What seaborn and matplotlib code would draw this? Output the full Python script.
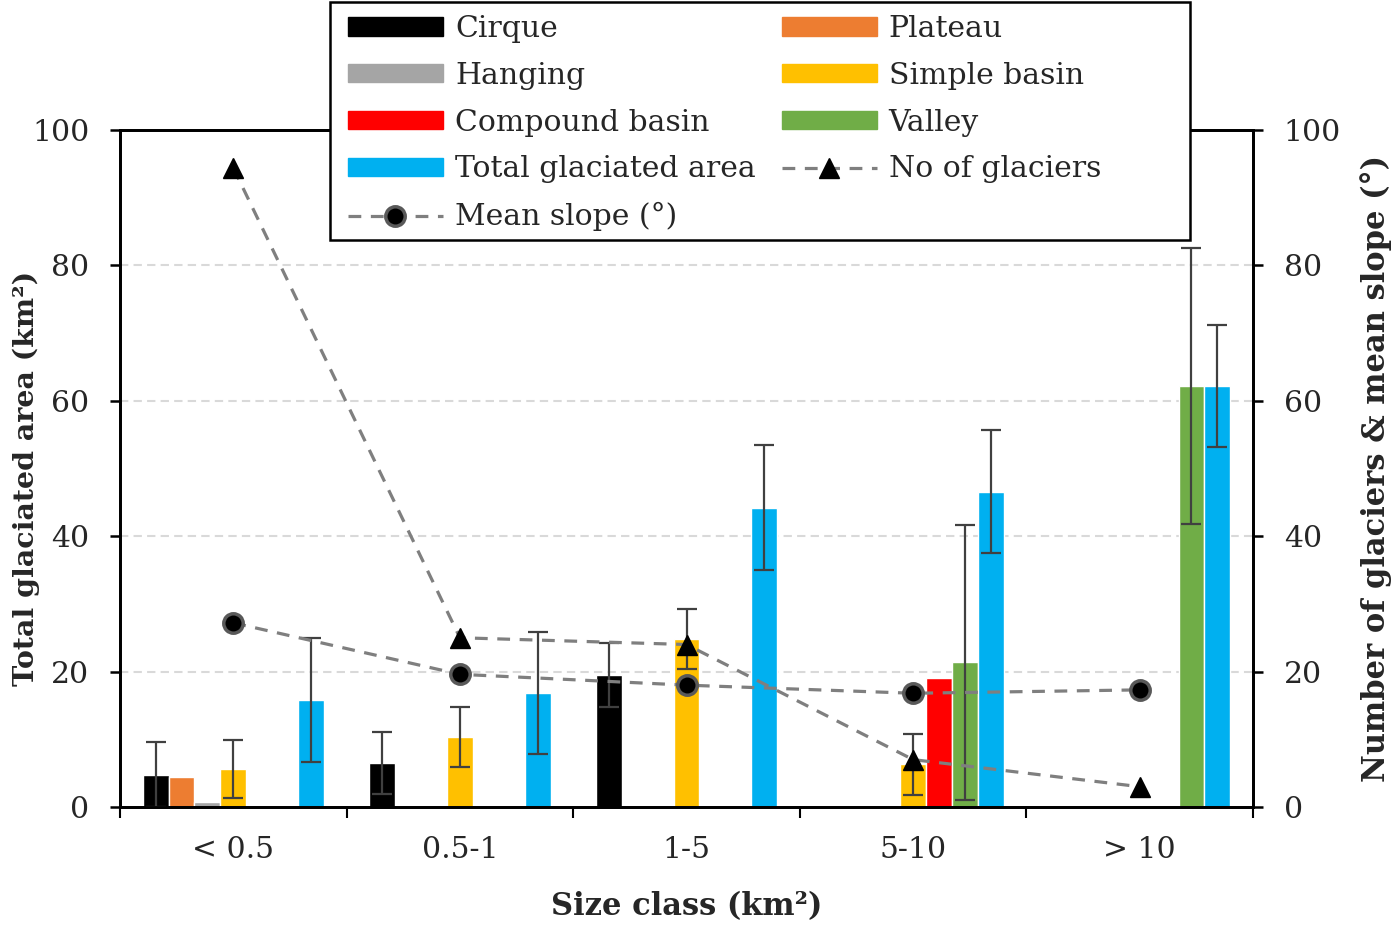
import numpy as np
import pandas as pd
import matplotlib
matplotlib.use('Agg')
import matplotlib.pyplot as plt
import seaborn as sns
from matplotlib.patches import Patch, Rectangle
from matplotlib.lines import Line2D
from matplotlib.container import BarContainer

# ---------------- data ----------------
categories = ['< 0.5', '0.5-1', '1-5', '5-10', '> 10']
types = ['Cirque', 'Plateau', 'Hanging', 'Simple basin', 'Compound basin', 'Valley',
         'Total glaciated area']
colors = ['#000000', '#ED7D31', '#A5A5A5', '#FFC000', '#FF0000', '#70AD47', '#00B0F0']

nan = np.nan
cirque = [4.8, 6.5, 19.5, nan, nan]
cirque_err = [4.8, 4.6, 4.7, nan, nan]
plateau = [4.5, nan, nan, nan, nan]
plateau_err = [nan, nan, nan, nan, nan]
hanging = [0.7, nan, nan, nan, nan]
hanging_err = [nan, nan, nan, nan, nan]
simple_basin = [5.6, 10.3, 24.8, 6.3, nan]
simple_basin_err = [4.3, 4.4, 4.4, 4.5, nan]
compound_basin = [nan, nan, nan, 19.0, nan]
compound_basin_err = [nan, nan, nan, nan, nan]
valley = [nan, nan, nan, 21.4, 62.2]
valley_err = [nan, nan, nan, 20.3, 20.4]
total_area = [15.8, 16.8, 44.2, 46.6, 62.2]
total_area_err = [9.1, 9.0, 9.2, 9.1, 9.0]

no_of_glaciers = [94.4, 25, 24, 7, 3]
mean_slope = [27.2, 19.6, 18.0, 16.8, 17.3]

values = [cirque, plateau, hanging, simple_basin, compound_basin, valley, total_area]
errors = [cirque_err, plateau_err, hanging_err, simple_basin_err, compound_basin_err,
          valley_err, total_area_err]

rows = []
for t, vals, errs in zip(types, values, errors):
    for c, v, e in zip(categories, vals, errs):
        if not np.isnan(v):
            rows.append({'size': c, 'type': t, 'area': v, 'err': e})
df = pd.DataFrame(rows)

# ---------------- style ----------------
sns.set_style('white')
plt.rcParams['font.family'] = ['DejaVu Serif']
plt.rcParams['font.size'] = 21

TICK_FS = 21.5
LABEL_FS = 22
LEG_FS = 21.5

fig = plt.figure(figsize=(14, 9.32), dpi=100)
ax = fig.add_axes([120 / 1400, 1 - 807 / 932, (1253 - 120) / 1400, (807 - 130) / 932])

sns.barplot(data=df, x='size', y='area', hue='type', order=categories, hue_order=types,
            palette=colors, saturation=1, width=0.8, gap=0, errorbar=None,
            legend=False, ax=ax, zorder=2)

# error bars drawn at the seaborn bar positions
nh = len(types)
bar_containers = [c for c in ax.containers if isinstance(c, BarContainer)]
for cont in bar_containers:
    for bar in cont:
        if bar is None:
            continue
        xc = bar.get_x() + bar.get_width() / 2
        ci = int(round(xc))
        hi = int(round((xc - ci) / (0.8 / nh) + (nh - 1) / 2))
        e = errors[hi][ci]
        if not np.isnan(e):
            ax.errorbar(xc, bar.get_height(), yerr=e, fmt='none', ecolor='#404040',
                        elinewidth=1.6, capsize=7, capthick=1.6, zorder=3)

ax.set_xlim(-0.5, len(categories) - 0.5)
ax.set_ylim(0, 100)
ax.set_yticks(np.arange(0, 101, 20))
ax.set_xticks(np.arange(len(categories)))
ax.set_xticklabels(categories)
ax.set_xticks(np.arange(len(categories) + 1) - 0.5, minor=True)
ax.tick_params(axis='x', which='major', length=0, pad=21, labelsize=TICK_FS)
ax.tick_params(axis='x', which='minor', length=8, width=1.5, direction='out',
               color='black', bottom=True)
ax.tick_params(axis='y', length=7.2, width=1.8, direction='out', color='black',
               left=True, labelsize=TICK_FS, pad=15)

ax.set_axisbelow(True)
for yv in [20, 40, 60, 80]:
    ax.axhline(yv, color='#D9D9D9', lw=1.5, ls=(0, (4, 2.5)), zorder=0)

for s in ax.spines.values():
    s.set_visible(True)
    s.set_color('black')
    s.set_linewidth(2)

ax.set_xlabel('Size class (km²)', fontsize=LABEL_FS, fontweight='bold', labelpad=19)
ax.set_ylabel('Total glaciated area (km²)', fontsize=20.5, fontweight='bold')
ax.yaxis.set_label_coords(-0.071, 0.485)

# secondary axis with lines
ax2 = ax.twinx()
ax2.set_ylim(0, 100)
ax2.set_yticks(np.arange(0, 101, 20))
ax2.tick_params(axis='y', length=7.2, width=1.8, direction='out', color='black',
                right=True, labelsize=TICK_FS, pad=15)
for s in ax2.spines.values():
    s.set_color('black')
    s.set_linewidth(2)
xpos = np.arange(len(categories))
line_style = dict(color='#7F7F7F', lw=2.3, ls=(0, (4, 3)))
ax2.plot(xpos, no_of_glaciers, marker='^', markersize=15, markerfacecolor='black',
         markeredgecolor='black', zorder=4, **line_style)
ax2.plot(xpos, mean_slope, marker='o', markersize=14, markerfacecolor='black',
         markeredgecolor='#595959', markeredgewidth=2.5, zorder=4, **line_style)
ax2.set_ylabel('Number of glaciers & mean slope (°)', fontsize=LABEL_FS, fontweight='bold',
               labelpad=14)

# legend box
box = Rectangle((330 / 1400, 1 - 240 / 932), (1190 - 330) / 1400, (240 - 2) / 932,
                transform=fig.transFigure, facecolor='white', edgecolor='black',
                linewidth=1.8, zorder=4)
fig.patches.append(box)

h = {t: Patch(facecolor=c, edgecolor=c) for t, c in zip(types, colors)}
h_no = Line2D([], [], marker='^', markersize=15, markerfacecolor='black',
              markeredgecolor='black', **line_style)
h_slope = Line2D([], [], marker='o', markersize=14, markerfacecolor='black',
                 markeredgecolor='#595959', markeredgewidth=2.5, **line_style)
handles = [h['Cirque'], h['Hanging'], h['Compound basin'], h['Total glaciated area'], h_slope,
           h['Plateau'], h['Simple basin'], h['Valley'], h_no]
labels = ['Cirque', 'Hanging', 'Compound basin', 'Total glaciated area', 'Mean slope (°)',
          'Plateau', 'Simple basin', 'Valley', 'No of glaciers']
leg = fig.legend(handles, labels, ncol=2, loc='upper left',
                 bbox_to_anchor=(348 / 1400, 1 - 15 / 932), frameon=False, fontsize=LEG_FS,
                 handlelength=3.18, handleheight=0.57, handletextpad=0.4,
                 labelspacing=0.63, columnspacing=0.87, borderpad=0, borderaxespad=0)
leg.set_zorder(5)

fig.savefig('out.png', dpi=100)
